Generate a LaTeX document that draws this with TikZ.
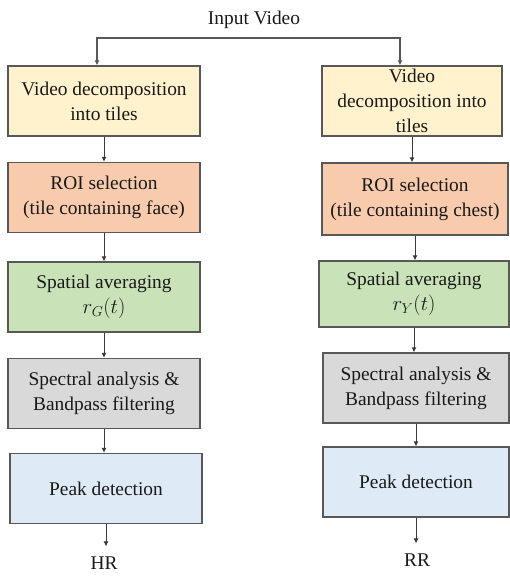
\documentclass[tikz,border=0pt]{standalone}
\usepackage{amsmath}
\usepackage{fontspec}
\setmainfont{Liberation Serif}
\usepackage{xcolor}
\usetikzlibrary{arrows.meta}
\definecolor{tileyellow}{HTML}{FFF2CC}
\definecolor{roiorange}{HTML}{F8CBAD}
\definecolor{avggreen}{HTML}{C9E2B8}
\definecolor{specgray}{HTML}{D9D9D9}
\definecolor{peakblue}{HTML}{DEEBF7}
\definecolor{edgegray}{HTML}{585858}
\definecolor{arrowgray}{HTML}{3A3A3A}

\begin{document}
\begin{tikzpicture}[x=1pt,y=-1pt,
    stage/.style={draw=edgegray, line width=1.3pt, align=center, inner sep=0pt,
                  minimum height=70pt, text=black!90,
                  font=\rmfamily\fontsize{19.4}{25}\selectfont},
    flow/.style={draw=arrowgray, line width=0.9pt, -{Latex[length=5pt,width=5pt]}},
    tag/.style={inner sep=0pt, text=black!90, font=\rmfamily\fontsize{19.4}{25}\selectfont}]
    \useasboundingbox (0,0) rectangle (510,576);

    \node [tag] (In) at (254,20) {Input Video};
    \coordinate (Split) at (254,38);

    % left branch: heart rate
    \node [stage, minimum width=192pt, fill=tileyellow] (TileL) at (104,101) {Video decomposition\\into tiles};
    \node [stage, minimum width=192pt, fill=roiorange] (RoiL) at (104,197.5) {ROI selection\\(tile containing face)};
    \node [stage, minimum width=192pt, fill=avggreen] (AvgL) at (104,297) {Spatial averaging\\$r_G(t)$};
    \node [stage, minimum width=192pt, fill=specgray] (SpecL) at (104,393.5) {Spectral analysis \&\\Bandpass filtering};
    \node [stage, minimum width=192pt, fill=peakblue] (PeakL) at (106,488.5) {Peak detection};
    \node [tag] (HR) at (104,563) {HR};

    % right branch: respiration rate
    \node [stage, minimum width=180pt, fill=tileyellow] (TileR) at (412,101) {Video\\decomposition into\\tiles};
    \node [stage, minimum width=186pt, minimum height=72pt, fill=roiorange] (RoiR) at (415,199) {ROI selection\\(tile containing chest)};
    \node [stage, minimum width=190pt, minimum height=66pt, fill=avggreen] (AvgR) at (414,294) {Spatial averaging\\$r_Y(t)$};
    \node [stage, minimum width=186pt, fill=specgray] (SpecR) at (416,388) {Spectral analysis \&\\Bandpass filtering};
    \node [stage, minimum width=186pt, fill=peakblue] (PeakR) at (416,482) {Peak detection};
    \node [tag] (RR) at (417,560) {RR};

    \draw [draw=edgegray, line width=1.2pt, {Latex[length=5pt,width=5pt]}-{Latex[length=5pt,width=5pt]}]
        ([xshift=-7pt]TileL.north) |- (Split) -| ([xshift=-12pt]TileR.north);

    \draw [flow] (TileL.south) -- (TileL.south |- RoiL.north);
    \draw [flow] (RoiL.south) -- (RoiL.south |- AvgL.north);
    \draw [flow] (AvgL.south) -- (AvgL.south |- SpecL.north);
    \draw [flow] (SpecL.south) -- (SpecL.south |- PeakL.north);
    \draw [flow, shorten >=10pt] (PeakL.south) -- (PeakL.south |- HR.north);

    \draw [flow] (TileR.south) -- (TileR.south |- RoiR.north);
    \draw [flow] (RoiR.south) -- (RoiR.south |- AvgR.north);
    \draw [flow] (AvgR.south) -- (AvgR.south |- SpecR.north);
    \draw [flow] (SpecR.south) -- (SpecR.south |- PeakR.north);
    \draw [flow, shorten >=10pt] (PeakR.south) -- (PeakR.south |- RR.north);
\end{tikzpicture}
\end{document}
